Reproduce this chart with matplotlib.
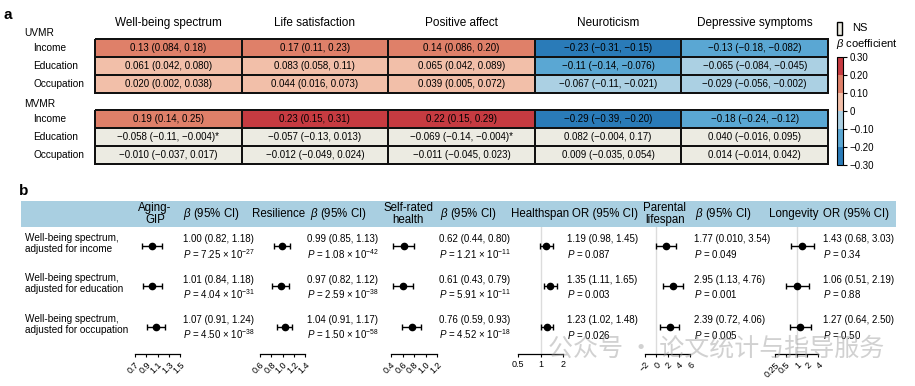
import numpy as np
import matplotlib.pyplot as plt
import matplotlib.cm as cm
from matplotlib.colors import ListedColormap, BoundaryNorm
from matplotlib.patches import Rectangle
from matplotlib.transforms import offset_copy

plt.rcParams['font.family'] = ['Liberation Sans', 'DejaVu Sans']
plt.rcParams['mathtext.fontset'] = 'custom'
plt.rcParams['mathtext.rm'] = 'Liberation Sans'
plt.rcParams['mathtext.it'] = 'Liberation Sans:italic'

# ---- panel a data ----
traits = ["Well-being spectrum", "Life satisfaction", "Positive affect",
          "Neuroticism", "Depressive symptoms"]
exposures = ["Income", "Education", "Occupation"]

uvmr_beta = [[0.13, 0.17, 0.14, -0.23, -0.13],
             [0.061, 0.083, 0.065, -0.11, -0.065],
             [0.020, 0.044, 0.039, -0.067, -0.029]]
uvmr_text = [["0.13 (0.084, 0.18)", "0.17 (0.11, 0.23)", "0.14 (0.086, 0.20)",
              "−0.23 (−0.31, −0.15)", "−0.13 (−0.18, −0.082)"],
             ["0.061 (0.042, 0.080)", "0.083 (0.058, 0.11)", "0.065 (0.042, 0.089)",
              "−0.11 (−0.14, −0.076)", "−0.065 (−0.084, −0.045)"],
             ["0.020 (0.002, 0.038)", "0.044 (0.016, 0.073)", "0.039 (0.005, 0.072)",
              "−0.067 (−0.11, −0.021)", "−0.029 (−0.056, −0.002)"]]

mvmr_beta = [[0.19, 0.23, 0.22, -0.29, -0.18],
             [-0.058, -0.057, -0.069, 0.082, 0.040],
             [-0.010, -0.012, -0.011, 0.009, 0.014]]
mvmr_text = [["0.19 (0.14, 0.25)", "0.23 (0.15, 0.31)", "0.22 (0.15, 0.29)",
              "−0.29 (−0.39, −0.20)", "−0.18 (−0.24, −0.12)"],
             ["−0.058 (−0.11, −0.004)*", "−0.057 (−0.13, 0.013)", "−0.069 (−0.14, −0.004)*",
              "0.082 (−0.004, 0.17)", "0.040 (−0.016, 0.095)"],
             ["−0.010 (−0.037, 0.017)", "−0.012 (−0.049, 0.024)", "−0.011 (−0.045, 0.023)",
              "0.009 (−0.035, 0.054)", "0.014 (−0.014, 0.042)"]]
mvmr_ns = [[False] * 5, [True] * 5, [True] * 5]
uvmr_ns = [[False] * 5] * 3

cbar_ticks = [0.3, 0.2, 0.1, 0, -0.1, -0.2, -0.3]
cbar_labels = ["0.30", "0.20", "0.10", "0", "−0.10", "−0.20", "−0.30"]

# ---- panel b data ----
outcomes = ["Aging-\nGIP", "Resilience", "Self-rated\nhealth",
            "Healthspan", "Parental\nlifespan", "Longevity"]
stat_labels = [r"$\it{\beta}$ (95% CI)", r"$\it{\beta}$ (95% CI)", r"$\it{\beta}$ (95% CI)",
               "OR (95% CI)", r"$\it{\beta}$ (95% CI)", "OR (95% CI)"]
models = ["Well-being spectrum,\nadjusted for income",
          "Well-being spectrum,\nadjusted for education",
          "Well-being spectrum,\nadjusted for occupation"]
est = [[1.00, 1.01, 1.07], [0.99, 0.97, 1.04], [0.62, 0.61, 0.76],
       [1.19, 1.35, 1.23], [1.77, 2.95, 2.39], [1.43, 1.06, 1.27]]
lo = [[0.82, 0.84, 0.91], [0.85, 0.82, 0.91], [0.44, 0.43, 0.59],
      [0.98, 1.11, 1.02], [0.010, 1.13, 0.72], [0.68, 0.51, 0.64]]
hi = [[1.18, 1.18, 1.24], [1.13, 1.12, 1.17], [0.80, 0.79, 0.93],
      [1.45, 1.65, 1.48], [3.54, 4.76, 4.06], [3.03, 2.19, 2.50]]
est_text = [["1.00 (0.82, 1.18)", "1.01 (0.84, 1.18)", "1.07 (0.91, 1.24)"],
            ["0.99 (0.85, 1.13)", "0.97 (0.82, 1.12)", "1.04 (0.91, 1.17)"],
            ["0.62 (0.44, 0.80)", "0.61 (0.43, 0.79)", "0.76 (0.59, 0.93)"],
            ["1.19 (0.98, 1.45)", "1.35 (1.11, 1.65)", "1.23 (1.02, 1.48)"],
            ["1.77 (0.010, 3.54)", "2.95 (1.13, 4.76)", "2.39 (0.72, 4.06)"],
            ["1.43 (0.68, 3.03)", "1.06 (0.51, 2.19)", "1.27 (0.64, 2.50)"]]
pvals = [["7.25e-27", "4.04e-31", "4.50e-38"],
         ["1.08e-42", "2.59e-38", "1.50e-58"],
         ["1.21e-11", "5.91e-11", "4.52e-18"],
         ["0.087", "0.003", "0.026"],
         ["0.049", "0.001", "0.005"],
         ["0.34", "0.88", "0.50"]]

W, H = 915, 386
fig = plt.figure(figsize=(W / 100, H / 100), dpi=100)


def px_axes(x0, y0, x1, y1):
    return fig.add_axes([x0 / W, 1 - y1 / H, (x1 - x0) / W, (y1 - y0) / H])


def ftext(x, y, s, **kw):
    return fig.text(x / W, 1 - y / H, s, **kw)


NS_COL = "#ecebe2"
cmap = ListedColormap(["#2a7bb8", "#5aa7d3", "#abd0e3", "#f2bfa9", "#df8069", "#c63b41"])
cmap.set_bad(NS_COL)
norm = BoundaryNorm([-0.3, -0.2, -0.1, 0, 0.1, 0.2, 0.3], cmap.N)

# ---- panel a ----
ftext(4, 15, "a", fontsize=11, fontweight="bold", va="center")
x0, x1 = 95, 828
for j, t in enumerate(traits):
    cx = x0 + (j + 0.5) * (x1 - x0) / len(traits)
    ftext(cx, 23, t, fontsize=8.5, ha="center", va="center")

for name, beta, txt, ns, (ya, yb), ly in [
        ("UVMR", uvmr_beta, uvmr_text, uvmr_ns, (39, 93), 33),
        ("MVMR", mvmr_beta, mvmr_text, mvmr_ns, (110, 164), 104)]:
    ax = px_axes(x0, ya, x1, yb)
    data = np.ma.masked_array(np.array(beta), mask=np.array(ns))
    mesh = ax.pcolormesh(data, cmap=cmap, norm=norm, edgecolors="#111111", linewidth=1.3)
    mesh.set_clip_on(False)
    ax.set_xlim(0, 5)
    ax.set_ylim(3, 0)
    ax.axis("off")
    for i in range(3):
        for j in range(5):
            ax.text(j + 0.5, i + 0.5, txt[i][j], ha="center", va="center", fontsize=7)
    ftext(24, ly, name, fontsize=7.3, va="center")
    for i, e in enumerate(exposures):
        ftext(33, ya + (i + 0.5) * (yb - ya) / 3, e, fontsize=7.3, va="center")

# legend / colorbar
fig.add_artist(Rectangle((837 / W, 1 - 35 / H), 5 / W, 13 / H, transform=fig.transFigure,
                         facecolor=NS_COL, edgecolor="k", linewidth=1))
ftext(852, 28, "NS", fontsize=8, va="center")
ftext(836, 44, r"$\it{\beta}$ coefficient", fontsize=8, va="center")
cax = px_axes(837, 57, 843, 165)
cb = fig.colorbar(cm.ScalarMappable(norm=norm, cmap=cmap), cax=cax, ticks=cbar_ticks)
cb.ax.set_yticklabels(cbar_labels)
cb.ax.tick_params(labelsize=7, length=3, width=0.8, pad=2)
cb.outline.set_linewidth(0.8)

# ---- panel b ----
ftext(19, 191, "b", fontsize=11, fontweight="bold", va="center")
fig.add_artist(Rectangle((21 / W, 1 - 227 / H), (896 - 21) / W, 26 / H,
                         transform=fig.transFigure, facecolor="#a9cfe1", edgecolor="none",
                         zorder=0))

# layout of the six forest panels: axis pixel range, limits, ticks, scale, rotation,
# header positions and where the estimate text goes
panels = [
    dict(px=(135, 180), lim=(0.7, 1.5), ticks=[0.7, 0.9, 1.1, 1.3, 1.5], scale="linear",
         rot=45, ref=None, head=(155, "center"), stat=183, tx=183),
    dict(px=(260, 305), lim=(0.6, 1.4), ticks=[0.6, 0.8, 1.0, 1.2, 1.4], scale="linear",
         rot=45, ref=None, head=(252, "left"), stat=310, tx=307),
    dict(px=(391, 437), lim=(0.4, 1.2), ticks=[0.4, 0.6, 0.8, 1.0, 1.2], scale="linear",
         rot=45, ref=None, head=(408, "center"), stat=440, tx=439),
    dict(px=(518, 563), lim=(0.5, 2), ticks=[0.5, 1, 2], scale="log",
         rot=0, ref=1, head=(511, "left"), stat=572, tx=567),
    dict(px=(645, 690), lim=(-2, 6), ticks=[-2, 0, 2, 4, 6], scale="linear",
         rot=45, ref=0, head=(665, "center"), stat=695, tx=694),
    dict(px=(775, 818), lim=(0.25, 4), ticks=[0.25, 0.5, 1, 2, 4], scale="log",
         rot=45, ref=1, head=(769, "left"), stat=823, tx=823),
]
tick_text = [["0.7", "0.9", "1.1", "1.3", "1.5"], ["0.6", "0.8", "1.0", "1.2", "1.4"],
             ["0.4", "0.6", "0.8", "1.0", "1.2"], ["0.5", "1", "2"],
             ["−2", "0", "2", "4", "6"], ["0.25", "0.5", "1", "2", "4"]]


def p_label(s):
    if "e" in s:
        m, e = s.split("e")
        return r"$\it{P}$ = " + m + " × 10$^{" + e + "}$"
    return r"$\it{P}$ = " + s


rows = np.arange(len(models))
for k, p in enumerate(panels):
    ax = px_axes(p["px"][0], 227, p["px"][1], 354)
    ax.patch.set_alpha(0)
    ax.set_xscale(p["scale"])
    e = np.array(est[k])
    err = [e - np.array(lo[k]), np.array(hi[k]) - e]
    ax.errorbar(e, rows, xerr=err, fmt="o", color="k", ms=4.5, elinewidth=1,
                capsize=2.5, capthick=1, zorder=3)
    if p["ref"] is not None:
        ax.axvline(p["ref"], color="#dcdcdc", lw=1, zorder=0)
    ax.set_xlim(*p["lim"])
    ax.set_ylim(2.67, -0.47)
    ax.set_xticks(p["ticks"])
    ax.set_xticklabels(tick_text[k])
    ax.minorticks_off()
    ax.set_yticks([])
    for s in ["left", "right", "top"]:
        ax.spines[s].set_visible(False)
    ax.spines["bottom"].set_linewidth(0.9)
    ax.tick_params(axis="x", labelsize=6.5, length=2.5, width=0.8, pad=2)
    if p["rot"]:
        for lab in ax.get_xticklabels():
            lab.set_rotation(p["rot"])
            lab.set_ha("right")
            lab.set_rotation_mode("anchor")

    # header
    hx, ha = p["head"]
    ftext(hx, 214, outcomes[k], fontsize=8.3, ha=ha, va="center", linespacing=0.95,
          multialignment="center")
    ftext(p["stat"], 214, stat_labels[k], fontsize=8.3, ha="left", va="center")

    # estimate text
    tr = ax.get_yaxis_transform()
    tx = (p["tx"] - p["px"][0]) / (p["px"][1] - p["px"][0])
    for i in rows:
        ax.text(tx, i, est_text[k][i], fontsize=7, ha="left", va="center",
                transform=offset_copy(tr, fig=fig, y=5, units="points"), clip_on=False)
        ax.text(tx, i, p_label(pvals[k][i]), fontsize=7, ha="left", va="center",
                transform=offset_copy(tr, fig=fig, y=-5.5, units="points"), clip_on=False)

    if k == 0:
        lx = (25 - p["px"][0]) / (p["px"][1] - p["px"][0])
        for i in rows:
            ax.text(lx, i, models[i], fontsize=7.2, ha="left", va="center",
                    linespacing=1.1, transform=offset_copy(tr, fig=fig, y=2, units="points"),
                    clip_on=False)

# watermark in the source image
ftext(548, 349, "公众号 · 论文统计与指导服务", fontsize=18, color="#9a9a9a", alpha=0.45,
      va="center", family=["Noto Sans CJK SC", "DejaVu Sans"], zorder=10)

fig.savefig("out.png", dpi=100)
